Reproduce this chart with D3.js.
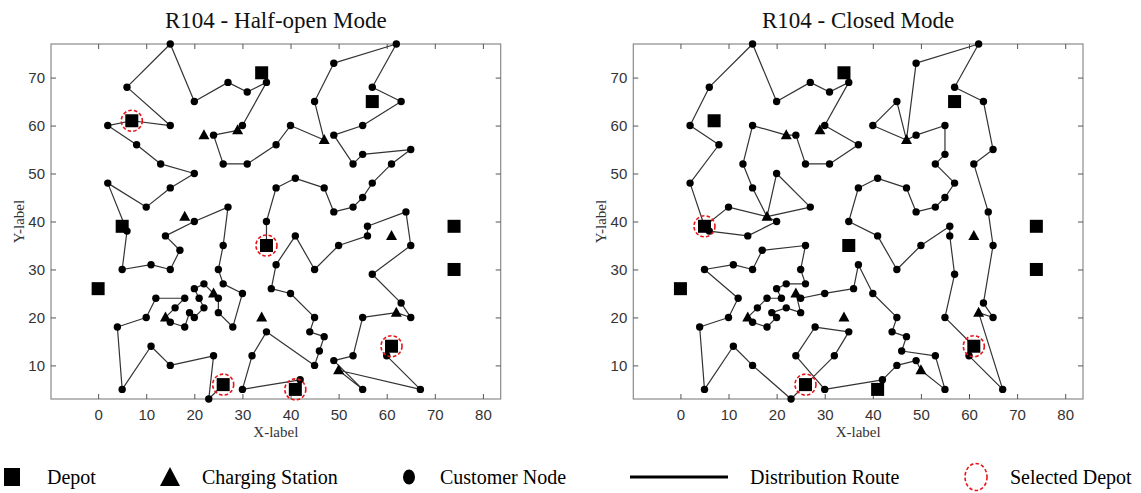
<!DOCTYPE html>
<html>
<head>
<meta charset="utf-8">
<script src="https://cdn.jsdelivr.net/npm/d3@7"></script>
<style>
    body { margin: 0; background: #fff; }
    #graph svg { display: block; }
</style>
</head>
<body>
<div id="graph"></div>
<script>
var xTicks = [0, 10, 20, 30, 40, 50, 60, 70, 80],
    yTicks = [10, 20, 30, 40, 50, 60, 70];

var depots = [[34,71],[57,65],[7,61],[5,39],[74,39],[74,30],[0,26],[35,35],[26,6],[41,5],[61,14]];

var stations = [[22,58],[29,59],[47,57],[18,41],[61,37],[24,25],[14,20],[34,20],[62,21],[50,9]];

var clients = [[41,49],[35,17],[55,45],[55,20],[15,30],[25,30],[20,50],[10,43],[55,60],[30,60],
    [20,65],[50,35],[30,25],[15,10],[30,5],[10,20],[5,30],[20,40],[15,60],[45,65],
    [45,20],[45,10],[55,5],[65,35],[65,20],[45,30],[35,40],[41,37],[64,42],[40,60],
    [31,52],[35,69],[53,52],[65,55],[63,65],[2,60],[20,20],[5,5],[60,12],[40,25],
    [42,7],[24,12],[23,3],[11,14],[6,38],[2,48],[8,56],[13,52],[6,68],[47,47],
    [49,58],[27,43],[37,31],[57,29],[63,23],[53,12],[32,12],[36,26],[21,24],[17,34],
    [12,24],[24,58],[27,69],[15,77],[62,77],[49,73],[67,5],[56,39],[37,47],[37,56],
    [57,68],[47,16],[44,17],[46,13],[49,11],[49,42],[53,43],[61,52],[57,48],[56,37],
    [55,54],[15,47],[14,37],[11,31],[16,22],[4,18],[28,18],[26,52],[26,35],[31,67],
    [15,19],[22,22],[18,24],[26,27],[25,24],[22,27],[25,21],[19,21],[20,26],[18,18]];

// tournees : mode semi-ouvert (gauche)
var tournees_semiOuvert = [
    [[26,6],[23,3],[24,12],[15,10],[11,14],[5,5],[4,18],[10,20],[12,24],[18,24],[16,22],[14,20],[15,19],
     [18,18],[19,21],[20,20],[22,22],[21,24],[20,26],[22,27],[24,25],[25,24],[25,21],[28,18],[30,25],
     [26,27],[25,30],[26,35],[27,43],[20,40],[14,37],[17,34],[15,30],[11,31],[5,30],[6,38],[2,48],
     [10,43],[15,47],[20,50],[13,52],[8,56],[2,60],[7,61]],
    [[7,61],[15,60],[6,68],[15,77],[20,65],[27,69],[31,67],[35,69],[30,60],[29,59],[24,58],[26,52],
     [31,52],[37,56],[40,60],[47,57],[45,65],[49,73],[62,77],[57,68],[63,65],[55,60],[49,58],[53,52],
     [55,54],[65,55],[61,52],[57,48],[55,45],[53,43],[49,42],[47,47],[41,49],[37,47],[35,40],[35,35]],
    [[41,5],[42,7],[30,5],[32,12],[35,17],[45,10],[46,13],[47,16],[44,17],[45,20],[40,25],[36,26],
     [37,31],[41,37],[45,30],[50,35],[56,37],[56,39],[64,42],[65,35],[57,29],[63,23],[65,20],[62,21],
     [55,20],[53,12],[49,11],[55,5],[50,9],[67,5],[60,12],[61,14]]
];

// tournees : mode ferme (droite)
var tournees_ferme = [
    [[26,6],[23,3],[15,10],[11,14],[5,5],[4,18],[10,20],[12,24],[5,30],[11,31],[15,30],[17,34],[26,35],
     [25,30],[26,27],[22,27],[20,26],[21,24],[18,24],[16,22],[14,20],[15,19],[18,18],[20,20],[19,21],
     [22,22],[25,21],[24,25],[25,24],[30,25],[36,26],[37,31],[40,25],[45,20],[44,17],[47,16],[46,13],
     [53,12],[55,5],[50,9],[49,11],[45,10],[42,7],[30,5],[24,12],[28,18],[35,17],[32,12],[26,6]],
    [[61,14],[60,12],[67,5],[62,21],[65,20],[63,23],[65,35],[64,42],[61,52],[65,55],[63,65],[57,68],
     [62,77],[49,73],[47,57],[45,65],[40,60],[47,57],[49,58],[55,60],[55,54],[53,52],[57,48],[55,45],
     [53,43],[49,42],[47,47],[41,49],[37,47],[35,40],[41,37],[45,30],[50,35],[56,39],[56,37],[57,29],
     [55,20],[61,14]],
    [[5,39],[2,48],[8,56],[2,60],[6,68],[15,77],[20,65],[27,69],[31,67],[35,69],[30,60],[37,56],[31,52],
     [26,52],[24,58],[22,58],[15,60],[13,52],[15,47],[18,41],[20,50],[27,43],[18,41],[10,43],[5,39]],
    [[5,39],[6,38],[14,37],[20,40],[18,41]]
];

var choisis_semiOuvert = [[7,61],[35,35],[26,6],[41,5],[61,14]],
    choisis_ferme = [[5,39],[26,6],[61,14]];

var titres = ["R104 - Half-open Mode", "R104 - Closed Mode"];

var legende = ["Depot", "Charging Station", "Customer Node", "Distribution Route", "Selected Depot"];

function dessinPanneau(svg, gauche, titre, tournees, choisis) {
    var largeur = 449.7, haut = 44, bas = 399,
        x = d3.scaleLinear().domain([-9.8, 83.7]).range([gauche, gauche + largeur]),
        y = d3.scaleLinear().domain([3, 77]).range([bas, haut]),
        g = svg.append("g"),
        ligne = d3.line().x(function (d) { return x(d[0]); }).y(function (d) { return y(d[1]); });

    g.append("rect")
        .attr("x", gauche).attr("y", haut)
        .attr("width", largeur).attr("height", bas - haut)
        .attr("fill", "none").attr("stroke", "#8a8a8a").attr("stroke-width", 1.2);

    var axes = [
        g.append("g").attr("transform", "translate(0," + bas + ")")
            .call(d3.axisBottom(x).tickValues(xTicks).tickSizeInner(-5).tickSizeOuter(0).tickPadding(10)),
        g.append("g").attr("transform", "translate(0," + haut + ")")
            .call(d3.axisTop(x).tickValues(xTicks).tickSizeInner(-5).tickSizeOuter(0).tickFormat("")),
        g.append("g").attr("transform", "translate(" + gauche + ",0)")
            .call(d3.axisLeft(y).tickValues(yTicks).tickSizeInner(-5).tickSizeOuter(0).tickPadding(6)),
        g.append("g").attr("transform", "translate(" + (gauche + largeur) + ",0)")
            .call(d3.axisRight(y).tickValues(yTicks).tickSizeInner(-5).tickSizeOuter(0).tickFormat(""))
    ];
    axes.forEach(function (a) {
        a.select(".domain").remove();
        a.selectAll(".tick line").attr("stroke", "#555");
        a.selectAll(".tick text")
            .style("font-family", "'Liberation Sans', Arial, sans-serif")
            .style("font-size", "15px")
            .attr("fill", "#333");
    });

    g.append("text")
        .attr("x", gauche + largeur / 2).attr("y", 28)
        .attr("text-anchor", "middle")
        .style("font-family", "'Liberation Serif', 'Times New Roman', serif")
        .style("font-size", "23px")
        .attr("fill", "#111")
        .text(titre);
    g.append("text")
        .attr("x", gauche + largeur / 2).attr("y", 437)
        .attr("text-anchor", "middle")
        .style("font-family", "'Liberation Serif', 'Times New Roman', serif")
        .style("font-size", "15px")
        .attr("fill", "#333")
        .text("X-label");
    g.append("text")
        .attr("transform", "translate(" + (gauche - 27) + "," + ((haut + bas) / 2) + ") rotate(-90)")
        .attr("text-anchor", "middle")
        .style("font-family", "'Liberation Serif', 'Times New Roman', serif")
        .style("font-size", "15px")
        .attr("fill", "#333")
        .text("Y-label");

    g.selectAll(".tournee")
        .data(tournees)
        .enter()
        .append("path")
        .attr("fill", "none")
        .attr("stroke", "#333")
        .attr("stroke-width", 1.2)
        .attr("stroke-linejoin", "round")
        .attr("d", ligne);

    g.selectAll(".client")
        .data(clients)
        .enter()
        .append("circle")
        .attr("cx", function (d) { return x(d[0]); })
        .attr("cy", function (d) { return y(d[1]); })
        .attr("r", 3.7)
        .attr("fill", "#000");

    g.selectAll(".station")
        .data(stations)
        .enter()
        .append("path")
        .attr("transform", function (d) { return "translate(" + x(d[0]) + "," + y(d[1]) + ")"; })
        .attr("d", "M0,-6L5.5,4L-5.5,4Z")
        .attr("fill", "#000");

    g.selectAll(".depot")
        .data(depots)
        .enter()
        .append("rect")
        .attr("x", function (d) { return x(d[0]) - 6.5; })
        .attr("y", function (d) { return y(d[1]) - 6.5; })
        .attr("width", 13).attr("height", 13)
        .attr("fill", "#000");

    g.selectAll(".choisi")
        .data(choisis)
        .enter()
        .append("circle")
        .attr("cx", function (d) { return x(d[0]); })
        .attr("cy", function (d) { return y(d[1]); })
        .attr("r", 10.5)
        .attr("fill", "none")
        .attr("stroke", "#e8141b")
        .attr("stroke-width", 1.6)
        .attr("stroke-dasharray", "3.5 2.2");
}

function dessinLegende(svg) {
    var yl = 477,
        g = svg.append("g"),
        pos = [47, 202, 440, 750, 1010];

    g.append("rect").attr("x", 4).attr("y", yl - 9).attr("width", 16).attr("height", 18).attr("fill", "#000");
    g.append("path").attr("d", "M170," + (yl - 10) + "L180," + (yl + 9) + "L160," + (yl + 9) + "Z").attr("fill", "#000");
    g.append("ellipse").attr("cx", 409).attr("cy", yl).attr("rx", 6).attr("ry", 7.5).attr("fill", "#000");
    g.append("line").attr("x1", 630).attr("x2", 728).attr("y1", yl).attr("y2", yl)
        .attr("stroke", "#000").attr("stroke-width", 3);
    g.append("ellipse").attr("cx", 976).attr("cy", yl).attr("rx", 11).attr("ry", 13.5)
        .attr("fill", "none").attr("stroke", "#e8141b").attr("stroke-width", 1.6).attr("stroke-dasharray", "3.5 2.2");

    g.selectAll(".legende")
        .data(legende)
        .enter()
        .append("text")
        .attr("x", function (d, i) { return pos[i]; })
        .attr("y", yl)
        .attr("dy", "0.35em")
        .style("font-family", "'Liberation Serif', 'Times New Roman', serif")
        .style("font-size", "20px")
        .attr("fill", "#000")
        .text(function (d) { return d; });
}

var svg = d3.select("#graph")
    .append("svg")
        .attr("width", 1141)
        .attr("height", 493);

dessinPanneau(svg, 51, titres[0], tournees_semiOuvert, choisis_semiOuvert);
dessinPanneau(svg, 633.3, titres[1], tournees_ferme, choisis_ferme);
dessinLegende(svg);
</script>
</body>
</html>
